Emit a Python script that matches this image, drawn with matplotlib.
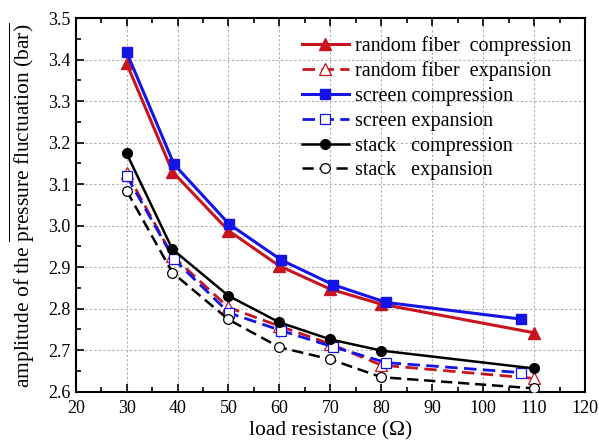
import matplotlib
matplotlib.use("Agg")
import matplotlib.pyplot as plt
from matplotlib.ticker import MultipleLocator

plt.rcParams['font.family'] = ['Liberation Serif', 'DejaVu Serif']
plt.rcParams['mathtext.fontset'] = 'custom'
plt.rcParams['mathtext.rm'] = 'Liberation Serif'
plt.rcParams['mathtext.it'] = 'Liberation Serif:italic'

x_fiber = [30, 39, 50, 60, 70, 80, 110]
fiber_comp = [3.391, 3.130, 2.988, 2.903, 2.847, 2.811, 2.742]
fiber_exp = [3.128, 2.927, 2.803, 2.758, 2.715, 2.664, 2.632]

x_screen = [30, 39.3, 50.1, 60.4, 70.5, 81, 107.4]
screen_comp = [3.418, 3.148, 3.004, 2.917, 2.858, 2.815, 2.775]
screen_exp = [3.120, 2.919, 2.790, 2.747, 2.708, 2.670, 2.646]

x_stack = [30, 39, 50, 60, 70, 80, 110]
stack_comp = [3.174, 2.943, 2.831, 2.767, 2.726, 2.699, 2.656]
stack_exp = [3.084, 2.887, 2.774, 2.707, 2.678, 2.635, 2.608]

labels = ['random fiber  compression', 'random fiber  expansion',
          'screen compression', 'screen expansion',
          'stack   compression', 'stack   expansion']

red = '#c8141e'
blue = '#1414e6'
black = '#000000'

fig = plt.figure(figsize=(5.99, 4.45), dpi=100)
ax = fig.add_axes([0.1264, 0.1198, 0.8502, 0.8393])

dash = (0, (4.5, 2.3))
ax.plot(x_fiber, fiber_comp, '-', color=red, lw=2.2, marker='^', ms=8,
        mfc=red, mec=red, label=labels[0], zorder=3)
ax.plot(x_fiber, fiber_exp, linestyle=dash, color=red, lw=2.0, marker='^', ms=8,
        mfc='white', mec=red, mew=0.9, label=labels[1], zorder=3)
ax.plot(x_screen, screen_comp, '-', color=blue, lw=2.2, marker='s', ms=7,
        mfc=blue, mec=blue, label=labels[2], zorder=3)
ax.plot(x_screen, screen_exp, linestyle=dash, color=blue, lw=2.0, marker='s', ms=7,
        mfc='white', mec=blue, mew=0.9, label=labels[3], zorder=3)
ax.plot(x_stack, stack_comp, '-', color=black, lw=1.8, marker='o', ms=7,
        mfc=black, mec=black, label=labels[4], zorder=3)
ax.plot(x_stack, stack_exp, linestyle=dash, color=black, lw=1.8, marker='o', ms=7,
        mfc='white', mec=black, mew=0.9, label=labels[5], zorder=3)

ax.set_xlim(20, 120)
ax.set_ylim(2.6, 3.5)
ax.xaxis.set_major_locator(MultipleLocator(10))
ax.xaxis.set_minor_locator(MultipleLocator(5))
ax.yaxis.set_major_locator(MultipleLocator(0.1))
ax.yaxis.set_minor_locator(MultipleLocator(0.05))
ax.yaxis.set_major_formatter(matplotlib.ticker.FormatStrFormatter('%.1f'))

ax.tick_params(which='both', direction='in', top=True, right=False,
               labelsize=13, width=1.2, colors='black')
ax.tick_params(which='major', length=6)
ax.tick_params(which='minor', length=3.5)
ax.tick_params(axis='x', pad=6)
for s in ax.spines.values():
    s.set_linewidth(1.5)

ax.grid(True, which='major', linestyle=(0, (2, 2)), color='#b0b0b0', lw=0.8)
ax.set_axisbelow(True)

ax.set_xlabel('load resistance (\u03a9)', fontsize=15.5, labelpad=3)
ax.set_ylabel(r'amplitude of the $\overline{\mathrm{pressure\ fluctuation\ (bar)}}$',
              fontsize=15.5, labelpad=8)

leg = ax.legend(loc='upper right', frameon=False, fontsize=14.5,
                handlelength=2.3, handletextpad=0.3, labelspacing=0.28,
                borderaxespad=0.3, bbox_to_anchor=(1.0, 0.99))

fig.savefig('out.png', dpi=100)
